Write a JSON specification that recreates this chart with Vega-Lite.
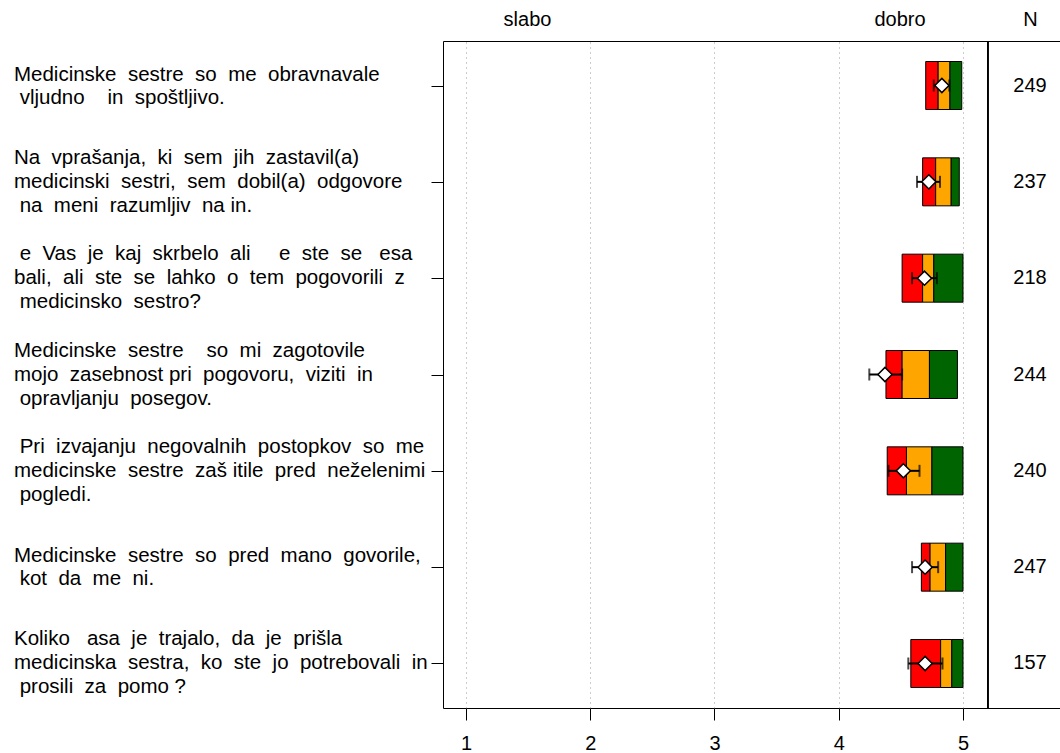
{
  "$schema": "https://vega.github.io/schema/vega-lite/v6.json",
  "description": "Ocene zadovoljstva z medicinskimi sestrami",
  "autosize": "none",
  "padding": {"left": 443, "top": 41, "right": 0, "bottom": 45},
  "width": 617,
  "height": 667,
  "datasets": {
    "rows": [
      {"q": "Medicinske  sestre  so  me  obravnavale| vljudno    in  spoštljivo.", "a": 4.70, "b": 4.80, "c": 4.895, "d": 4.99, "mean": 4.83, "lo": 4.765, "hi": 4.89, "n": 249},
      {"q": "Na  vprašanja,  ki  sem  jih  zastavil(a)|medicinski  sestri,  sem  dobil(a)  odgovore| na  meni  razumljiv  na in.", "a": 4.675, "b": 4.78, "c": 4.905, "d": 4.97, "mean": 4.725, "lo": 4.63, "hi": 4.815, "n": 237},
      {"q": " e  Vas  je  kaj  skrbelo  ali     e  ste  se   esa|bali,  ali  ste  se  lahko  o  tem  pogovorili  z| medicinsko  sestro?", "a": 4.51, "b": 4.675, "c": 4.765, "d": 5.0, "mean": 4.69, "lo": 4.59, "hi": 4.79, "n": 218},
      {"q": "Medicinske  sestre    so  mi  zagotovile|mojo  zasebnost pri  pogovoru,  viziti  in| opravljanju  posegov.", "a": 4.38, "b": 4.51, "c": 4.73, "d": 4.955, "mean": 4.372, "lo": 4.246, "hi": 4.51, "n": 244},
      {"q": " Pri  izvajanju  negovalnih  postopkov  so  me|medicinske  sestre  zaš itile  pred  neželenimi| pogledi.", "a": 4.39, "b": 4.545, "c": 4.75, "d": 5.0, "mean": 4.52, "lo": 4.40, "hi": 4.65, "n": 240},
      {"q": "Medicinske  sestre  so  pred  mano  govorile,| kot  da  me  ni.", "a": 4.665, "b": 4.735, "c": 4.86, "d": 5.0, "mean": 4.695, "lo": 4.59, "hi": 4.80, "n": 247},
      {"q": "Koliko   asa  je  trajalo,  da  je  prišla|medicinska  sestra,  ko  ste  jo  potrebovali  in| prosili  za  pomo ?", "a": 4.58, "b": 4.82, "c": 4.91, "d": 5.0, "mean": 4.695, "lo": 4.56, "hi": 4.835, "n": 157}
    ],
    "headers": [
      {"hx": 1.491, "h": "slabo"},
      {"hx": 4.489, "h": "dobro"},
      {"hx": 5.539, "h": "N"}
    ]
  },
  "data": {"name": "rows"},
  "resolve": {"axis": {"x": "independent"}},
  "layer": [
    {
      "mark": {"type": "bar", "color": "#FF0000", "stroke": "black", "strokeWidth": 1, "size": 48},
      "encoding": {
        "x": {
          "field": "a", "type": "quantitative",
          "scale": {"domain": [0.8149, 5.7807], "nice": false, "zero": false},
          "axis": {
            "values": [1, 2, 3, 4, 5], "title": null, "domain": false,
            "grid": true, "gridDash": [1, 4], "gridColor": "#9a9a9a",
            "tickSize": 12, "tickColor": "black", "labelFontSize": 20,
            "labelColor": "black", "labelPadding": 13, "format": "d"
          }
        },
        "x2": {"field": "b"},
        "y": {
          "field": "q", "type": "nominal", "sort": null,
          "scale": {"type": "point", "padding": 0.462},
          "axis": {
            "title": null, "domain": false, "ticks": true, "tickSize": 12,
            "tickColor": "black", "tickWidth": 1, "labels": false, "grid": false
          }
        }
      }
    },
    {
      "mark": {"type": "bar", "color": "#FFA500", "stroke": "black", "strokeWidth": 1, "size": 48},
      "encoding": {
        "x": {"field": "b", "type": "quantitative", "axis": null},
        "x2": {"field": "c"},
        "y": {"field": "q", "type": "nominal", "sort": null}
      }
    },
    {
      "mark": {"type": "bar", "color": "#006400", "stroke": "black", "strokeWidth": 1, "size": 48},
      "encoding": {
        "x": {"field": "c", "type": "quantitative", "axis": null},
        "x2": {"field": "d"},
        "y": {"field": "q", "type": "nominal", "sort": null}
      }
    },
    {
      "mark": {"type": "rule", "color": "black", "strokeWidth": 2},
      "encoding": {
        "x": {"field": "lo", "type": "quantitative", "axis": null},
        "x2": {"field": "hi"},
        "y": {"field": "q", "type": "nominal", "sort": null}
      }
    },
    {
      "mark": {"type": "tick", "color": "black", "thickness": 2, "size": 12},
      "encoding": {
        "x": {"field": "lo", "type": "quantitative", "axis": null},
        "y": {"field": "q", "type": "nominal", "sort": null}
      }
    },
    {
      "mark": {"type": "tick", "color": "black", "thickness": 2, "size": 12},
      "encoding": {
        "x": {"field": "hi", "type": "quantitative", "axis": null},
        "y": {"field": "q", "type": "nominal", "sort": null}
      }
    },
    {
      "mark": {"type": "point", "shape": "diamond", "filled": true, "fill": "white", "stroke": "black", "strokeWidth": 1.5, "size": 200, "opacity": 1},
      "encoding": {
        "x": {"field": "mean", "type": "quantitative", "axis": null},
        "y": {"field": "q", "type": "nominal", "sort": null}
      }
    },
    {
      "mark": {"type": "rule", "color": "black", "strokeWidth": 1},
      "encoding": {
        "x": {"datum": 5.2, "type": "quantitative", "axis": null}
      }
    },
    {
      "mark": {"type": "text", "fontSize": 20, "color": "black", "align": "center", "baseline": "middle"},
      "encoding": {
        "x": {"datum": 5.539, "type": "quantitative", "axis": null},
        "y": {"field": "q", "type": "nominal", "sort": null},
        "text": {"field": "n", "type": "quantitative"}
      }
    },
    {
      "transform": [
        {"filter": "length(split(datum.q, '|')) == 2"},
        {"calculate": "'\u200b' + join(split(join(split(datum.q, ' '), '\u00a0'), '|'), '|\u200b')", "as": "label"}
      ],
      "mark": {"type": "text", "fontSize": 20.5, "color": "black", "align": "left", "baseline": "middle", "lineBreak": "|", "lineHeight": 23, "dy": -11},
      "encoding": {
        "x": {"datum": -2.638, "type": "quantitative", "axis": null},
        "y": {"field": "q", "type": "nominal", "sort": null},
        "text": {"field": "label", "type": "nominal"}
      }
    },
    {
      "transform": [
        {"filter": "length(split(datum.q, '|')) == 3"},
        {"calculate": "'\u200b' + join(split(join(split(datum.q, ' '), '\u00a0'), '|'), '|\u200b')", "as": "label"}
      ],
      "mark": {"type": "text", "fontSize": 20.5, "color": "black", "align": "left", "baseline": "middle", "lineBreak": "|", "lineHeight": 24, "dy": -24},
      "encoding": {
        "x": {"datum": -2.638, "type": "quantitative", "axis": null},
        "y": {"field": "q", "type": "nominal", "sort": null},
        "text": {"field": "label", "type": "nominal"}
      }
    },
    {
      "data": {"name": "headers"},
      "mark": {"type": "point", "opacity": 0},
      "encoding": {
        "x": {
          "field": "hx", "type": "quantitative",
          "axis": {
            "orient": "top", "values": [1.491, 4.489, 5.539], "title": null,
            "domain": false, "ticks": false, "tickSize": 0, "grid": false,
            "labelFontSize": 20, "labelColor": "black", "labelPadding": 12,
            "labelExpr": "datum.value < 2 ? 'slabo' : datum.value < 5 ? 'dobro' : 'N'"
          }
        }
      }
    }
  ],
  "config": {
    "font": "Liberation Sans",
    "view": {"stroke": "black", "strokeWidth": 1},
    "axis": {"labelFont": "Liberation Sans"},
    "text": {"font": "Liberation Sans"}
  }
}
